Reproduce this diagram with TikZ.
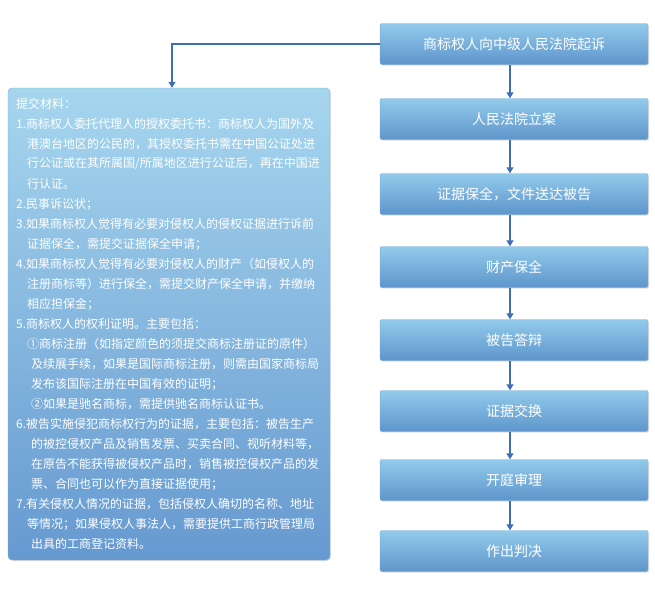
\documentclass[tikz,border=0pt]{standalone}
\usepackage{fontspec}
\newfontfamily\cjk{Noto Sans CJK SC}
\usetikzlibrary{arrows.meta,shadows}
\definecolor{btop}{HTML}{92CBEA}
\definecolor{bbot}{HTML}{5E95CC}
\definecolor{ltop}{HTML}{A6D6EE}
\definecolor{lbot}{HTML}{6699D0}
\definecolor{arr}{HTML}{3F6EB4}
\tikzset{
 stepbox/.style={draw=bbot!80!white,rounded corners=2pt,top color=btop,bottom color=bbot,minimum width=268pt,minimum height=41pt,text=white,font=\cjk\fontsize{14}{16}\selectfont,inner sep=0pt,drop shadow={opacity=0.25,shadow xshift=1pt,shadow yshift=-1pt}},
 arrowline/.style={draw=arr,line width=1.2pt,-{Triangle[length=6pt,width=7pt]}},
 txt/.style={anchor=west,text=white,font=\cjk\fontsize{12}{14}\selectfont,inner sep=0pt}
}
\begin{document}
\begin{tikzpicture}[x=1pt,y=-1pt]
\useasboundingbox (0,0) rectangle (655,600);
\node[stepbox] (s1) at (514,44) {商标权人向中级人民法院起诉};
\node[stepbox] (s2) at (514,119) {人民法院立案};
\node[stepbox] (s3) at (514,194) {证据保全，文件送达被告};
\node[stepbox] (s4) at (514,267) {财产保全};
\node[stepbox] (s5) at (514,340) {被告答辩};
\node[stepbox] (s6) at (514,411) {证据交换};
\node[stepbox] (s7) at (514,480) {开庭审理};
\node[stepbox] (s8) at (514,551) {作出判决};
\node[draw=lbot!80!white,rounded corners=4pt,top color=ltop,bottom color=lbot,minimum width=322pt,minimum height=472pt,inner sep=0pt,drop shadow={opacity=0.25,shadow xshift=1pt,shadow yshift=-1pt}] (L) at (169,324) {};
\foreach \i in {1,...,7}{\pgfmathtruncatemacro\j{\i+1}\draw[arrowline] (s\i.south -| 510,0) -- (s\j.north -| 510,0);}
\coordinate (c) at (172,44);
\draw[arrowline] (s1.west) -- (c) -- (c |- L.north);
\node[txt] at (16,104) {提交材料：};
\node[txt] at (16,124) {1.商标权人委托代理人的授权委托书：商标权人为国外及};
\node[txt] at (27,144) {港澳台地区的公民的，其授权委托书需在中国公证处进};
\node[txt] at (27,164) {行公证或在其所属国/所属地区进行公证后，再在中国进};
\node[txt] at (27,184) {行认证。};
\node[txt] at (16,204) {2.民事诉讼状；};
\node[txt] at (16,224) {3.如果商标权人觉得有必要对侵权人的侵权证据进行诉前};
\node[txt] at (27,244) {证据保全，需提交证据保全申请；};
\node[txt] at (16,264) {4.如果商标权人觉得有必要对侵权人的财产（如侵权人的};
\node[txt] at (27,284) {注册商标等）进行保全，需提交财产保全申请，并缴纳};
\node[txt] at (27,304) {相应担保金；};
\node[txt] at (16,324) {5.商标权人的权利证明。主要包括：};
\node[txt] at (27,344) {①商标注册（如指定颜色的须提交商标注册证的原件）};
\node[txt] at (31,364) {及续展手续，如果是国际商标注册，则需由国家商标局};
\node[txt] at (31,384) {发布该国际注册在中国有效的证明；};
\node[txt] at (31,404) {②如果是驰名商标，需提供驰名商标认证书。};
\node[txt] at (16,424) {6.被告实施侵犯商标权行为的证据，主要包括：被告生产};
\node[txt] at (31,444) {的被控侵权产品及销售发票、买卖合同、视听材料等，};
\node[txt] at (31,464) {在原告不能获得被侵权产品时，销售被控侵权产品的发};
\node[txt] at (31,484) {票、合同也可以作为直接证据使用；};
\node[txt] at (16,504) {7.有关侵权人情况的证据，包括侵权人确切的名称、地址};
\node[txt] at (27,524) {等情况；如果侵权人事法人，需要提供工商行政管理局};
\node[txt] at (31,544) {出具的工商登记资料。};
\end{tikzpicture}
\end{document}
